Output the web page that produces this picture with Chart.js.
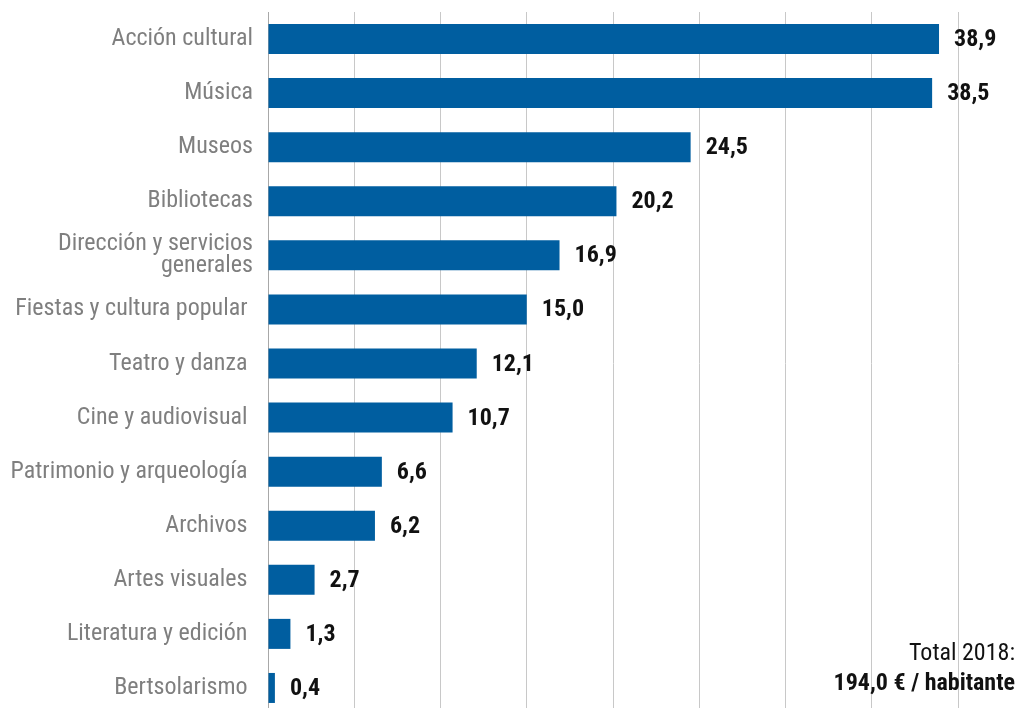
<!DOCTYPE html>
<html>
<head>
<meta charset="utf-8">
<script src="https://cdn.jsdelivr.net/npm/chart.js@4"></script>
<style>
html,body{margin:0;padding:0;background:#fff;overflow:hidden;width:1032px;height:708px;}
#wrap{position:absolute;left:0;top:0;width:1032px;height:716px;}
#total{position:absolute;right:17px;top:637px;text-align:right;font-family:"Roboto Condensed","Roboto",sans-serif;font-size:24px;line-height:30px;color:#111;white-space:nowrap;}
#total b{font-weight:bold;}
</style>
</head>
<body>
<div id="wrap"><canvas id="c" width="1032" height="716"></canvas></div>
<div id="total">Total 2018:<br><b>194,0 € / habitante</b></div>
<script>
const categories = [
  "Acción cultural",
  "Música",
  "Museos",
  "Bibliotecas",
  ["Dirección y servicios", "generales"],
  "Fiestas y cultura popular ",
  "Teatro y danza ",
  "Cine y audiovisual ",
  "Patrimonio y arqueología ",
  "Archivos ",
  "Artes visuales ",
  "Literatura y edición ",
  "Bertsolarismo "
];
const values = [38.9, 38.5, 24.5, 20.2, 16.9, 15.0, 12.1, 10.7, 6.6, 6.2, 2.7, 1.3, 0.4];
const xMin = 0, xMax = 40, xStep = 5;

const FONT = '"Roboto Condensed", "Roboto", sans-serif';

const valueLabels = {
  id: 'valueLabels',
  afterDatasetsDraw(chart) {
    const ctx = chart.ctx;
    const meta = chart.getDatasetMeta(0);
    ctx.save();
    ctx.font = 'bold 24px ' + FONT;
    ctx.fillStyle = '#111';
    ctx.textAlign = 'left';
    ctx.textBaseline = 'middle';
    meta.data.forEach((bar, i) => {
      const txt = values[i].toFixed(1).replace('.', ',');
      ctx.fillText(txt, bar.x + 15, bar.y + 1);
    });
    ctx.restore();
  }
};

new Chart(document.getElementById('c'), {
  type: 'bar',
  data: {
    labels: categories,
    datasets: [{
      data: values,
      backgroundColor: '#005EA0',
      borderWidth: 0,
      barPercentage: 0.555,
      categoryPercentage: 1
    }]
  },
  options: {
    indexAxis: 'y',
    responsive: false,
    animation: false,
    layout: { padding: { top: 12, right: 74, bottom: 1, left: 0 } },
    plugins: { legend: { display: false }, tooltip: { enabled: false } },
    scales: {
      x: {
        min: xMin, max: xMax,
        ticks: { display: false, stepSize: xStep },
        grid: { color: '#c8c8c8', lineWidth: 1, drawTicks: false },
        border: { display: false }
      },
      y: {
        ticks: {
          color: '#7f7f7f',
          font: { family: FONT, size: 24, lineHeight: 0.92 },
          padding: 15,
          autoSkip: false
        },
        grid: { display: false, drawTicks: false },
        border: { display: true, color: '#a8a8a8', width: 1 },
        afterFit(scale) {
          scale.width = 268;
          scale.paddingTop = 0;
          scale.paddingBottom = 0;
        }
      }
    }
  },
  plugins: [valueLabels]
});
</script>
</body>
</html>
